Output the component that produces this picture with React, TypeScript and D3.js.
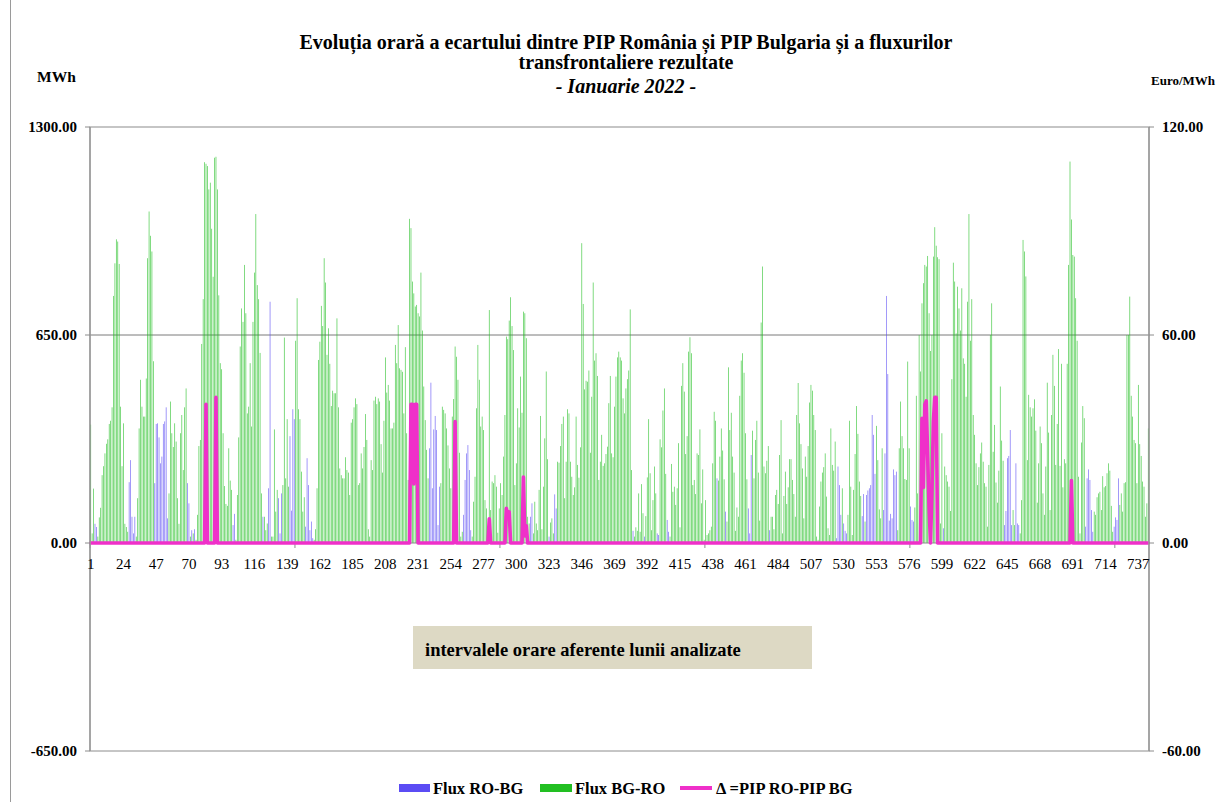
import React from "react";
import * as d3 from "d3";

// Hourly flows (MWh), January 2022, 744 hours (one line = one day, 24 hours)
const fluxROBG: number[] = [
  0,0,0,60,50,0,0,0,0,0,0,0,0,0,0,0,0,0,0,0,0,0,0,0,
  0,0,0,190,259,82,30,82,0,0,0,0,0,0,0,0,0,0,0,0,0,187,372,374,
  330,249,270,372,380,424,77,0,0,0,0,0,0,0,0,0,0,0,0,0,187,124,0,40,
  0,43,0,0,0,0,0,0,0,0,0,0,0,0,0,0,0,0,0,0,0,0,0,0,
  0,0,0,0,56,91,0,0,0,0,0,0,0,0,0,0,0,0,0,0,0,0,0,0,
  0,82,0,0,0,171,754,0,0,0,0,0,140,30,155,0,0,0,0,0,334,101,418,387,
  0,0,0,0,0,0,0,51,265,181,40,67,15,0,0,0,0,0,0,0,0,0,0,0,
  0,0,0,0,0,0,0,0,0,0,0,0,0,0,0,0,0,0,0,0,0,0,0,0,
  0,0,0,0,0,0,0,0,0,0,0,0,0,0,0,0,0,0,0,0,0,0,0,0,
  0,0,0,0,0,0,0,0,0,0,0,0,0,0,0,0,0,0,0,0,0,0,296,501,
  171,355,397,353,56,176,0,0,0,0,0,0,0,0,0,0,0,0,0,0,0,0,88,197,
  280,306,228,40,0,0,0,0,0,0,0,0,0,0,0,0,0,0,0,0,0,0,0,0,
  0,0,0,0,0,0,0,0,0,0,0,0,0,0,0,0,0,0,0,0,0,82,124,0,
  0,0,0,0,0,0,0,0,0,0,20,0,0,0,152,108,0,0,0,0,0,0,0,0,
  0,0,0,0,0,0,0,0,0,0,0,0,0,0,0,0,0,0,0,0,0,0,0,0,
  0,0,0,0,0,0,0,0,0,0,0,0,0,0,0,0,0,0,0,0,0,38,0,0,
  0,0,0,0,0,20,0,0,0,0,0,0,0,0,30,25,0,0,0,0,0,72,35,0,
  0,0,0,0,0,0,0,0,0,0,0,0,0,0,0,0,0,0,0,0,0,0,0,0,
  0,0,0,0,0,0,0,0,202,0,0,0,0,0,98,0,0,0,0,0,0,0,0,0,
  0,0,0,0,0,0,108,30,275,0,0,0,0,0,0,0,0,0,0,0,0,40,0,0,
  0,0,0,0,0,0,0,0,0,0,0,0,0,0,0,0,0,0,0,0,0,0,0,0,
  0,0,0,0,0,0,0,0,0,0,0,0,0,0,0,0,0,0,0,0,15,239,181,88,
  0,61,38,30,0,0,0,0,0,0,0,0,0,0,84,153,0,150,164,171,181,400,338,216,
  0,0,0,0,0,103,280,772,528,70,91,77,230,212,223,0,0,0,0,0,0,0,0,0,
  114,72,67,0,0,0,0,0,0,0,0,0,0,0,0,0,0,0,0,0,0,0,0,46,
  0,0,0,0,0,0,0,0,0,0,0,0,0,0,0,0,0,0,0,0,0,0,0,0,
  0,0,0,0,0,0,0,0,0,0,0,0,0,0,0,0,0,0,56,100,265,272,353,56,
  0,0,249,61,56,0,0,0,0,0,0,0,0,0,0,0,0,0,0,0,0,0,0,0,
  0,0,0,0,0,0,0,0,0,0,0,0,0,0,0,0,0,0,0,0,0,0,0,0,
  0,0,0,51,202,230,197,103,35,0,0,0,0,0,0,0,0,0,0,0,0,0,0,51,
  80,72,202,0,0,0,0,0,0,0,0,0,0,0,0,0,0,0,0,0,0,0,0,0,
];

const fluxBGRO: number[] = [
  370,30,170,0,0,20,80,110,212,240,280,310,324,372,382,424,772,874,949,942,872,426,240,374,
  60,50,35,0,0,0,0,0,20,140,358,510,426,395,395,514,890,1036,960,911,568,0,0,0,
  0,0,0,0,0,0,0,155,442,343,300,374,317,140,60,343,400,228,424,483,0,0,20,0,
  30,0,10,88,303,322,622,762,1190,1185,1178,1105,1126,982,832,1204,1207,1105,774,562,543,343,178,122,
  116,296,195,166,0,0,10,150,330,614,733,691,869,718,405,426,562,364,691,845,1028,806,762,594,
  155,0,82,40,61,0,0,20,20,355,98,166,0,0,0,181,642,202,387,176,0,0,0,0,
  632,765,418,387,223,98,143,0,0,0,0,0,0,10,43,171,572,629,741,678,890,814,588,671,
  560,428,476,468,468,702,424,233,212,202,202,268,228,220,150,376,387,424,452,434,181,187,280,233,
  300,403,322,43,20,259,228,445,457,434,452,442,309,220,382,580,470,494,445,358,358,376,619,562,
  681,546,541,535,405,612,343,197,1013,984,817,780,739,744,718,708,845,664,489,384,291,202,0,0,
  0,0,0,0,0,0,187,426,416,405,358,305,233,171,395,450,614,582,510,282,20,35,0,0,
  0,0,0,0,20,129,207,421,619,510,364,395,353,134,108,20,728,103,192,187,212,176,32,108,
  187,150,270,400,645,637,695,768,678,603,181,249,421,361,520,407,723,718,640,82,61,0,0,30,
  129,61,40,166,397,43,176,327,536,262,0,64,77,30,0,0,254,251,303,372,395,140,254,418,
  405,254,207,150,174,395,244,204,299,937,747,480,507,504,539,282,457,814,570,593,522,197,254,338,
  241,249,278,301,437,522,280,268,426,520,580,598,580,570,452,405,483,512,539,730,228,0,20,49,
  38,155,35,184,93,0,84,205,387,218,40,134,239,155,0,0,324,299,414,483,216,0,0,20,
  247,160,176,119,171,312,49,491,562,473,278,334,598,643,593,181,197,153,280,275,355,124,230,10,
  134,25,30,40,51,249,410,382,0,195,270,358,289,199,0,67,549,353,407,270,220,38,111,82,
  460,570,593,532,343,199,0,0,0,351,202,322,382,220,70,689,864,239,218,257,303,0,82,82,
  43,150,166,122,275,384,30,147,223,122,174,262,262,197,153,82,400,500,374,309,233,77,270,207,
  303,439,494,476,400,353,20,10,114,192,220,237,280,145,46,25,358,244,226,317,0,0,0,0,
  171,0,0,0,88,382,176,25,166,278,428,341,192,147,0,0,67,0,0,0,0,0,0,0,
  366,259,105,77,296,0,0,0,0,0,0,0,0,0,0,40,296,442,334,296,200,197,567,296,
  0,0,0,111,460,155,650,536,749,812,869,864,897,718,600,650,895,987,929,893,887,61,343,0,
  239,212,192,176,100,512,876,817,655,801,733,664,796,577,560,457,754,1028,632,762,400,338,249,181,
  237,280,314,254,187,176,51,244,650,749,285,369,189,126,226,489,320,257,0,0,0,0,0,0,
  103,56,0,0,0,30,134,947,911,833,259,463,424,395,421,449,351,126,249,364,312,155,88,239,
  501,345,103,400,588,491,244,372,606,241,560,174,262,249,560,869,1192,1011,900,895,765,632,207,30,
  314,428,390,0,0,0,0,0,0,98,88,143,155,160,103,209,174,178,218,249,226,116,35,0,
  0,0,0,119,155,98,187,190,650,650,770,460,395,322,312,187,494,309,272,192,176,82,124,358,
];

// Δ = PIP RO - PIP BG (Euro/MWh), hourly
const deltaPIP: number[] = [
  0,0,0,0,0,0,0,0,0,0,0,0,0,0,0,0,0,0,0,0,0,0,0,0,
  0,0,0,0,0,0,0,0,0,0,0,0,0,0,0,0,0,0,0,0,0,0,0,0,
  0,0,0,0,0,0,0,0,0,0,0,0,0,0,0,0,0,0,0,0,0,0,0,0,
  0,0,0,0,0,0,0,0,0,40,0,0,0,0,0,0,42,0,0,0,0,0,0,0,
  0,0,0,0,0,0,0,0,0,0,0,0,0,0,0,0,0,0,0,0,0,0,0,0,
  0,0,0,0,0,0,0,0,0,0,0,0,0,0,0,0,0,0,0,0,0,0,0,0,
  0,0,0,0,0,0,0,0,0,0,0,0,0,0,0,0,0,0,0,0,0,0,0,0,
  0,0,0,0,0,0,0,0,0,0,0,0,0,0,0,0,0,0,0,0,0,0,0,0,
  0,0,0,0,0,0,0,0,0,0,0,0,0,0,0,0,0,0,0,0,0,0,0,0,
  0,0,0,0,0,0,0,0,0,40,40,17,40,40,0,0,0,0,0,0,0,0,0,0,
  0,0,0,0,0,0,0,0,0,0,0,0,0,0,0,0,35,0,0,0,0,0,0,0,
  0,0,0,0,0,0,0,0,0,0,0,0,0,0,0,0,7,0,0,0,0,0,0,0,
  0,0,0,0,10,8,9,0,0,0,0,0,0,0,0,0,19,2,5,0,0,0,0,0,
  0,0,0,0,0,0,0,0,0,0,0,0,0,0,0,0,0,0,0,0,0,0,0,0,
  0,0,0,0,0,0,0,0,0,0,0,0,0,0,0,0,0,0,0,0,0,0,0,0,
  0,0,0,0,0,0,0,0,0,0,0,0,0,0,0,0,0,0,0,0,0,0,0,0,
  0,0,0,0,0,0,0,0,0,0,0,0,0,0,0,0,0,0,0,0,0,0,0,0,
  0,0,0,0,0,0,0,0,0,0,0,0,0,0,0,0,0,0,0,0,0,0,0,0,
  0,0,0,0,0,0,0,0,0,0,0,0,0,0,0,0,0,0,0,0,0,0,0,0,
  0,0,0,0,0,0,0,0,0,0,0,0,0,0,0,0,0,0,0,0,0,0,0,0,
  0,0,0,0,0,0,0,0,0,0,0,0,0,0,0,0,0,0,0,0,0,0,0,0,
  0,0,0,0,0,0,0,0,0,0,0,0,0,0,0,0,0,0,0,0,0,0,0,0,
  0,0,0,0,0,0,0,0,0,0,0,0,0,0,0,0,0,0,0,0,0,0,0,0,
  0,0,0,0,0,0,0,0,0,0,0,0,0,0,0,0,0,0,0,0,0,0,0,0,
  0,0,0,0,0,0,0,0,36,16,40,41,25,10,0,15,35,42,42,0,0,0,0,0,
  0,0,0,0,0,0,0,0,0,0,0,0,0,0,0,0,0,0,0,0,0,0,0,0,
  0,0,0,0,0,0,0,0,0,0,0,0,0,0,0,0,0,0,0,0,0,0,0,0,
  0,0,0,0,0,0,0,0,0,0,0,0,0,0,0,0,0,0,0,0,0,0,0,0,
  0,0,0,0,0,0,0,0,0,0,0,0,0,0,0,0,0,18,0,0,0,0,0,0,
  0,0,0,0,0,0,0,0,0,0,0,0,0,0,0,0,0,0,0,0,0,0,0,0,
  0,0,0,0,0,0,0,0,0,0,0,0,0,0,0,0,0,0,0,0,0,0,0,0,
];

const xTickLabels: number[] = [1,24,47,70,93,116,139,162,185,208,231,254,277,300,323,346,369,392,415,438,461,484,507,530,553,576,599,622,645,668,691,714,737];
const leftTicks: number[] = [-650, 0, 650, 1300];
const rightTicks: number[] = [-60, 0, 60, 120];
const titleLines: string[] = [
  "Evoluția orară a ecartului dintre PIP România și PIP Bulgaria și a fluxurilor",
  "transfrontaliere rezultate",
];
const titleSub = "- Ianuarie 2022 -";

const hours: number[] = fluxBGRO.map((_, i) => i + 1);

const SERIF = "'Liberation Serif', 'Times New Roman', serif";
const C_BLUE = "#5b4cf4";
const C_GREEN = "#22bf22";
const C_PINK = "#ef30c9";

export default function App() {
  const W = 1221;
  const H = 802;
  const P = { left: 90, right: 1149, top: 127, bottom: 751 };

  const x = d3.scaleBand<number>().domain(hours).range([P.left, P.right]).padding(0);
  const bw = x.bandwidth();
  const yL = d3.scaleLinear().domain([-650, 1300]).range([P.bottom, P.top]);
  const yR = d3.scaleLinear().domain([-60, 120]).range([P.bottom, P.top]);

  const line = d3
    .line<number>()
    .x((_, i) => (x(hours[i]) as number) + bw / 2)
    .y((d) => yR(d))
    .curve(d3.curveLinear);

  const tickHours = hours.filter((h) => (h - 1) % 144 === 0);
  const barW = bw * 0.5;
  const barOff = (bw - barW) / 2;

  return (
    <svg
      width={W}
      height={H}
      style={{ position: "absolute", left: 0, top: 0, background: "#fff" }}
      fontFamily={SERIF}
    >
      <rect x={0} y={0} width={W} height={H} fill="#fff" />
      <line x1={10.5} x2={10.5} y1={0} y2={H} stroke="#9a9a9a" strokeWidth={1} />

      {/* Title */}
      <text x={626} y={49} textAnchor="middle" fontSize={20} fontWeight="bold" fill="#000">
        {titleLines[0]}
      </text>
      <text x={626} y={69} textAnchor="middle" fontSize={20} fontWeight="bold" fill="#000">
        {titleLines[1]}
      </text>
      <text x={626} y={93} textAnchor="middle" fontSize={20} fontWeight="bold" fontStyle="italic" fill="#000">
        {titleSub}
      </text>

      {/* Axis titles */}
      <text x={37} y={82} fontSize={15.5} fontWeight="bold">MWh</text>
      <text x={1151} y={85} fontSize={13} fontWeight="bold">Euro/MWh</text>

      {/* Plot frame */}
      <rect x={P.left} y={P.top} width={P.right - P.left} height={P.bottom - P.top} fill="#fff" stroke="#8c8c8c" strokeWidth={1} />

      {/* Grid at 650 */}
      {leftTicks
        .filter((t) => t !== 0 && t !== 1300 && t !== -650)
        .map((t) => (
          <line key={"g" + t} x1={P.left} x2={P.right} y1={yL(t)} y2={yL(t)} stroke="#7a7a7a" strokeWidth={1} />
        ))}

      {/* Bars */}
      <g fillOpacity={0.8}>
        {hours.map((h, i) =>
          fluxROBG[i] > 0 ? (
            <rect
              key={"b" + h}
              x={(x(h) as number) + barOff}
              y={yL(fluxROBG[i])}
              width={barW}
              height={yL(0) - yL(fluxROBG[i])}
              fill={C_BLUE}
            />
          ) : null
        )}
        {hours.map((h, i) =>
          fluxBGRO[i] > 0 ? (
            <rect
              key={"g" + h}
              x={(x(h) as number) + barOff}
              y={yL(fluxBGRO[i])}
              width={barW}
              height={yL(0) - yL(fluxBGRO[i])}
              fill={C_GREEN}
            />
          ) : null
        )}
      </g>

      {/* Zero axis line */}
      <line x1={P.left} x2={P.right} y1={yL(0)} y2={yL(0)} stroke="#8c8c8c" strokeWidth={1} />
      {tickHours.map((h) => (
        <line key={"tk" + h} x1={x(h) as number} x2={x(h) as number} y1={yL(0)} y2={yL(0) + 5} stroke="#8c8c8c" />
      ))}

      {/* Delta line */}
      <path d={line(deltaPIP) || ""} fill="none" stroke={C_PINK} strokeWidth={3.6} strokeLinejoin="round" strokeLinecap="round" />

      {/* Left/right axes */}
      <line x1={P.left} x2={P.left} y1={P.top} y2={P.bottom} stroke="#9a9a9a" strokeWidth={1.5} />
      <line x1={P.right} x2={P.right} y1={P.top} y2={P.bottom} stroke="#9a9a9a" strokeWidth={1.5} />
      {leftTicks.map((t) => (
        <g key={"lt" + t}>
          <line x1={P.left - 5} x2={P.left} y1={yL(t)} y2={yL(t)} stroke="#8c8c8c" />
          <text x={77} y={yL(t) + 5} textAnchor="end" fontSize={15} fontWeight="bold">
            {t.toFixed(2)}
          </text>
        </g>
      ))}
      {rightTicks.map((t) => (
        <g key={"rt" + t}>
          <line x1={P.right} x2={P.right + 5} y1={yR(t)} y2={yR(t)} stroke="#8c8c8c" />
          <text x={1162} y={yR(t) + 5} textAnchor="start" fontSize={15} fontWeight="bold">
            {t.toFixed(2)}
          </text>
        </g>
      ))}

      {/* X labels */}
      {xTickLabels.map((h) => (
        <text key={"xl" + h} x={(x(h) as number) + bw / 2} y={569} textAnchor="middle" fontSize={15}>
          {h}
        </text>
      ))}

      {/* Text box */}
      <rect x={413} y={626} width={399} height={43} fill="#ddd9c4" />
      <text x={425} y={656} fontSize={18.5} fontWeight="bold">
        intervalele orare aferente lunii analizate
      </text>

      {/* Legend */}
      <rect x={399} y={784} width={31} height={8} fill={C_BLUE} />
      <text x={433} y={794} fontSize={16.5} fontWeight="bold">Flux RO-BG</text>
      <rect x={540} y={784} width={32} height={8} fill={C_GREEN} />
      <text x={575} y={794} fontSize={16.5} fontWeight="bold">Flux BG-RO</text>
      <line x1={680} x2={712} y1={788} y2={788} stroke={C_PINK} strokeWidth={4} />
      <text x={716} y={794} fontSize={16.5} fontWeight="bold">Δ =PIP RO-PIP BG</text>
    </svg>
  );
}
